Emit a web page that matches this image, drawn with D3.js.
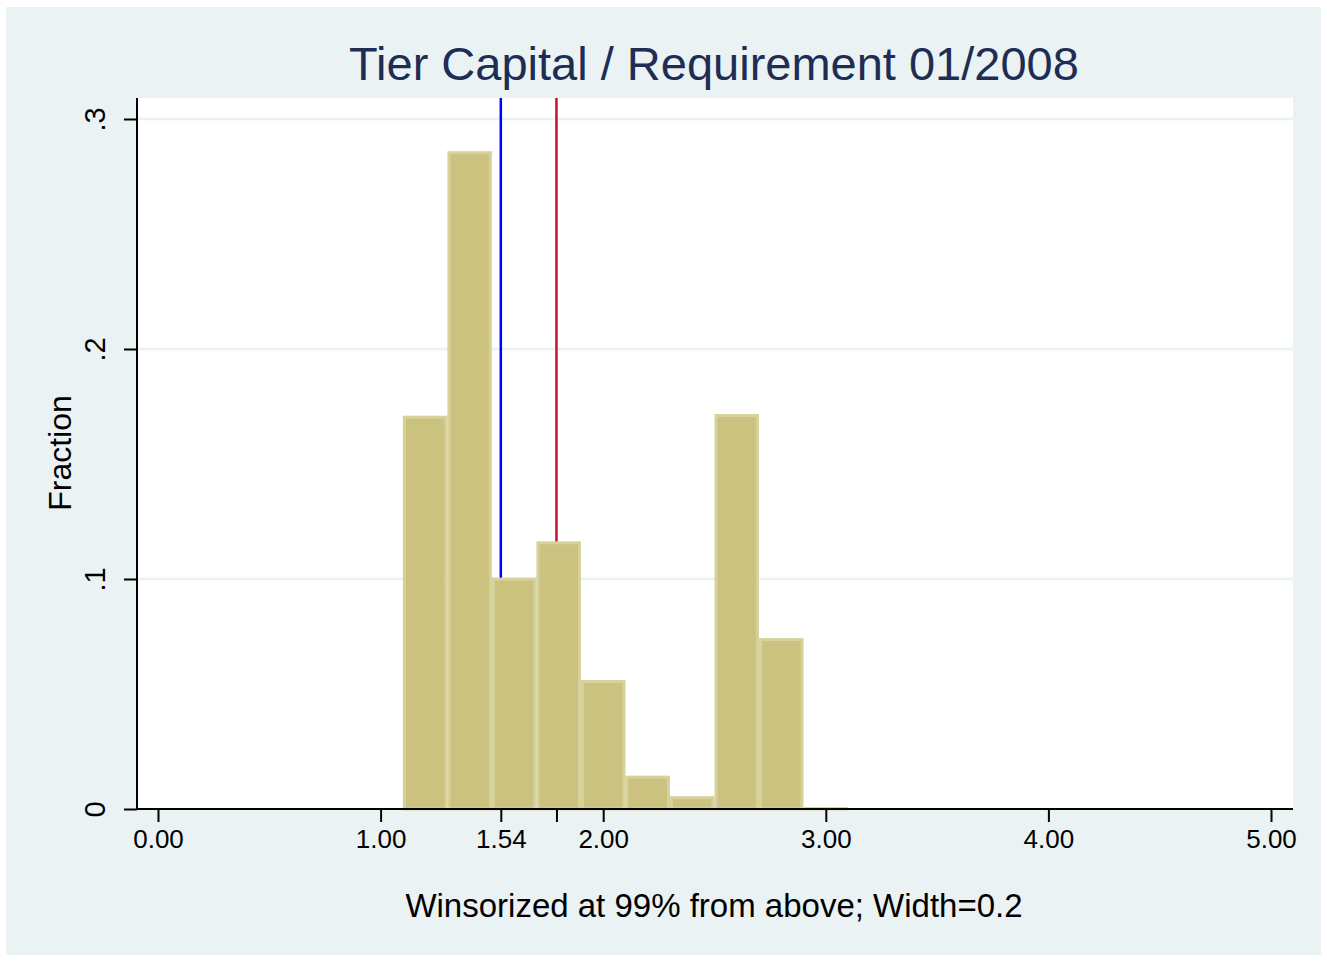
<!DOCTYPE html>
<html><head><meta charset="utf-8">
<script src="https://cdn.jsdelivr.net/npm/d3@7"></script>
<style>body{margin:0;background:#fff}svg{display:block}text{font-family:"Liberation Sans",Arial,sans-serif}</style>
</head><body>
<script>
const binStarts = [1.1,1.3,1.5,1.7,1.9,2.1,2.3,2.5,2.7,2.9];
const binWidth = 0.2;
const fractions = [0.171,0.2860,0.1006,0.1164,0.0561,0.0145,0.0056,0.1717,0.0743,0.0009];
const xTicks = [0,1,1.54,1.79,2,3,4,5];
const xTickLabels = ["0.00","1.00","1.54","","2.00","3.00","4.00","5.00"];
const yTicks = [0,0.1,0.2,0.3];
const yTickLabels = ["0",".1",".2",".3"];
const refLines = [{v:1.54,color:"#0000ff"},{v:1.79,color:"#c8102e"}];

const W=1327,H=962;
const svg=d3.select("body").append("svg").attr("width",W).attr("height",H);
svg.append("rect").attr("x",0).attr("y",0).attr("width",W).attr("height",H).attr("fill","#fff");
svg.append("rect").attr("x",6).attr("y",7).attr("width",1315).attr("height",948).attr("fill","#eaf2f3");

const x=d3.scaleLinear().domain([0,5]).range([158,1271]);
const y=d3.scaleLinear().domain([0,0.3]).range([809,119]);
const L=137,R=1293,T=98,B=809;
svg.append("rect").attr("x",L).attr("y",T).attr("width",R-L).attr("height",B-T).attr("fill","#fff");

// gridlines
svg.selectAll(".grid").data(yTicks.slice(1)).enter().append("line")
 .attr("x1",L).attr("x2",R).attr("y1",d=>y(d)).attr("y2",d=>y(d))
 .attr("stroke","#eaf2f3").attr("stroke-width",2.5);

// ref lines
svg.selectAll(".ref").data(refLines).enter().append("line")
 .attr("x1",d=>x(d.v)).attr("x2",d=>x(d.v)).attr("y1",T).attr("y2",B)
 .attr("stroke",d=>d.color).attr("stroke-width",2.5);

// bars
svg.selectAll(".bar").data(fractions).enter().append("rect")
 .attr("x",(d,i)=>x(binStarts[i])+1.5)
 .attr("width",(d,i)=>x(binStarts[i]+binWidth)-x(binStarts[i])-3)
 .attr("y",d=>y(d)+1.5)
 .attr("height",d=>Math.max(0,y(0)-y(d)-1.5))
 .attr("fill","#cac27e").attr("stroke","#d7d29b").attr("stroke-width",3);

// x axis
const xa=svg.append("g").attr("transform",`translate(0,${B})`)
 .call(d3.axisBottom(x).tickValues(xTicks).tickFormat((d,i)=>xTickLabels[i]).tickSize(13).tickSizeOuter(0));
xa.select(".domain").remove();
xa.append("line").attr("x1",L).attr("x2",R).attr("y1",0).attr("y2",0).attr("stroke","#000").attr("stroke-width",2);
xa.selectAll(".tick line").attr("stroke","#000").attr("stroke-width",2);
xa.selectAll(".tick text").attr("font-size",26).attr("fill","#000").attr("dy","0.9em")
 .style("font-family","Liberation Sans, Arial, sans-serif");

// y axis
const ya=svg.append("g").attr("transform",`translate(${L},0)`)
 .call(d3.axisLeft(y).tickValues(yTicks).tickFormat((d,i)=>yTickLabels[i]).tickSize(13).tickSizeOuter(0));
ya.select(".domain").remove();
ya.append("line").attr("x1",0).attr("x2",0).attr("y1",T).attr("y2",B+1).attr("stroke","#000").attr("stroke-width",2);
ya.selectAll(".tick line").attr("stroke","#000").attr("stroke-width",2);
ya.selectAll(".tick text").remove();
ya.selectAll(".tick").append("text")
 .attr("transform","translate(-42,0) rotate(-90)")
 .attr("text-anchor","middle").attr("dy","0.35em")
 .attr("font-size",29).attr("fill","#000")
 .text((d,i)=>yTickLabels[i]);

// titles
svg.append("text").attr("x",714).attr("y",80).attr("text-anchor","middle")
 .attr("font-size",47).attr("fill","#1e2d53").text("Tier Capital / Requirement 01/2008");
svg.append("text").attr("x",714).attr("y",917).attr("text-anchor","middle")
 .attr("font-size",33).attr("fill","#000").text("Winsorized at 99% from above; Width=0.2");
svg.append("text").attr("transform","translate(71,453) rotate(-90)").attr("text-anchor","middle")
 .attr("font-size",32).attr("fill","#000").text("Fraction");
</script>
</body></html>
